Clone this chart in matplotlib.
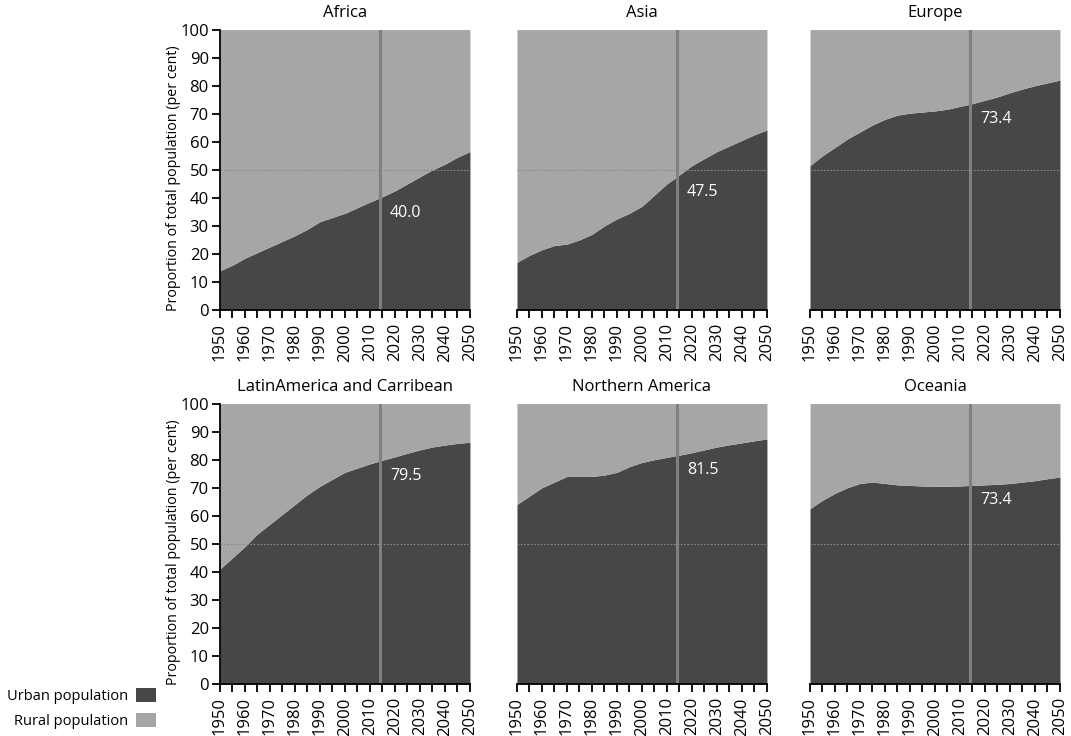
import numpy as np
import matplotlib.pyplot as plt
from matplotlib.patches import Patch

plt.rcParams['font.family'] = ['Open Sans', 'DejaVu Sans']

years = [1950, 1955, 1960, 1965, 1970, 1975, 1980, 1985, 1990, 1995, 2000,
         2005, 2010, 2014, 2015, 2020, 2025, 2030, 2035, 2040, 2045, 2050]

regions = ['Africa', 'Asia', 'Europe',
           'LatinAmerica and Carribean', 'Northern America', 'Oceania']

africa = [14, 16, 18.5, 20.5, 22.5, 24.5, 26.5, 28.8, 31.5, 33, 34.5,
          36.5, 38.5, 40.0, 40.4, 42.5, 45, 47.5, 50, 52, 54.5, 56.5]
asia = [17, 19.5, 21.5, 23, 23.5, 25, 27, 30, 32.5, 34.5, 37,
        41, 45, 47.5, 48.2, 51.5, 54, 56.5, 58.5, 60.5, 62.5, 64.2]
europe = [51.5, 55, 58, 61, 63.5, 66, 68, 69.5, 70.2, 70.6, 71,
          71.6, 72.6, 73.4, 73.6, 74.8, 76, 77.5, 78.8, 80, 81, 82]
latam = [41, 45, 49, 53.5, 57, 60.5, 64, 67.5, 70.5, 73, 75.5,
         77, 78.5, 79.5, 79.8, 81, 82.3, 83.5, 84.5, 85.2, 85.8, 86.2]
namerica = [64, 67, 70, 72, 74, 74, 74, 74.5, 75.5, 77.5, 79,
            80, 80.8, 81.5, 81.6, 82.5, 83.5, 84.5, 85.3, 86, 86.7, 87.4]
oceania = [62.5, 65.5, 68, 70, 71.5, 72, 71.5, 71, 70.8, 70.6, 70.5,
           70.5, 70.6, 70.8, 70.8, 71, 71.2, 71.5, 72, 72.5, 73.2, 73.8]

urban = [africa, asia, europe, latam, namerica, oceania]
labels = ['40.0', '47.5', '73.4', '79.5', '81.5', '73.4']
label_y = [40.0, 47.5, 73.4, 79.5, 81.5, 70.8]

mark_year = 2014
urban_col = '#474747'
rural_col = '#a6a6a6'

fig = plt.figure(figsize=(10.71, 7.36), dpi=100)
lefts = [0.2054, 0.4827, 0.7563]
bottoms = [0.5788, 0.0707]
w, h = 0.2334, 0.381

for i in range(6):
    r, c = divmod(i, 3)
    ax = fig.add_axes([lefts[c], bottoms[r], w, h])
    u = np.array(urban[i])
    ax.fill_between(years, 0, u, color=urban_col, lw=0)
    ax.fill_between(years, u, 100, color=rural_col, lw=0)
    ax.axvline(mark_year, color='#808080', lw=2.2)
    ax.axhline(50, color='#8a8a8a', lw=0.8, ls=(0, (1.5, 1.5)))
    ax.text(mark_year + 4, label_y[i] - 2.5, labels[i], color='white',
            fontsize=11.5, va='top', ha='left')
    ax.set_xlim(1950, 2050)
    ax.set_ylim(0, 100)
    ax.set_xticks(range(1950, 2051, 10))
    ax.set_xticks(range(1950, 2051, 5), minor=True)
    ax.tick_params(axis='x', rotation=90, labelsize=12, length=6, width=1.3)
    ax.tick_params(axis='x', which='minor', length=6, width=1.3)
    ax.set_title(regions[i], fontsize=12, fontweight='medium', pad=9)
    for s in ['top', 'right']:
        ax.spines[s].set_visible(False)
    ax.spines['bottom'].set_linewidth(1.3)
    if c == 0:
        ax.set_yticks(range(0, 101, 10))
        ax.tick_params(axis='y', labelsize=12, length=6, width=1.3, pad=2)
        ax.spines['left'].set_linewidth(1.3)
        ax.set_ylabel('Proportion of total population (per cent)',
                      fontsize=10.3)
        ax.yaxis.set_label_coords(-0.155, 0.47)
    else:
        ax.set_yticks([])
        ax.spines['left'].set_visible(False)

handles = [Patch(facecolor=urban_col, lw=0), Patch(facecolor=rural_col, lw=0)]
fig.legend(handles, ['Urban population', 'Rural population'],
           loc='lower right', bbox_to_anchor=(156 / 1071, 7 / 736),
           frameon=False, markerfirst=False, fontsize=10.5, handlelength=1.4,
           handleheight=1.0, handletextpad=0.5, labelspacing=0.65,
           borderpad=0, borderaxespad=0)

fig.savefig('out.png', dpi=100)
